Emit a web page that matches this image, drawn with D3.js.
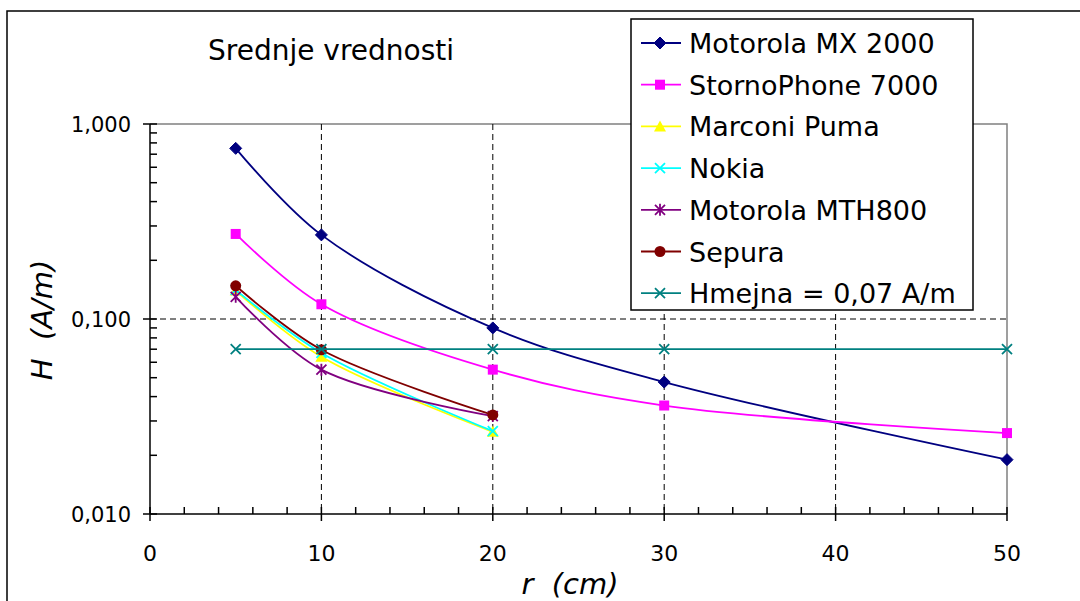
<!DOCTYPE html>
<html>
<head>
<meta charset="utf-8">
<script src="https://cdn.jsdelivr.net/npm/d3@7"></script>
<style>
body { margin: 0; background: #fff; }
svg { display: block; font-family: "DejaVu Sans", sans-serif; }
</style>
</head>
<body>
<svg id="chart" width="1080" height="601"></svg>
<script>
// data
var distances = [5, 10, 20, 30, 50];
var mx2000 = [0.75, 0.27, 0.090, 0.0475, 0.019];
var storno = [0.273, 0.119, 0.055, 0.036, 0.026];
var marconi = [0.14, 0.064, 0.0264];
var nokia = [0.141, 0.067, 0.0266];
var mth800 = [0.13, 0.055, 0.0318];
var sepura = [0.148, 0.0695, 0.0322];
var hmejna = [0.07, 0.07, 0.07, 0.07, 0.07];
var seriesNames = ['Motorola MX 2000', 'StornoPhone 7000', 'Marconi Puma', 'Nokia', 'Motorola MTH800', 'Sepura', 'Hmejna = 0,07 A/m'];
var xTicks = [0, 10, 20, 30, 40, 50];
var yTicks = [0.01, 0.1, 1];

var series = [
	{name: seriesNames[0], vals: mx2000, color: '#000080', marker: 'diamond'},
	{name: seriesNames[1], vals: storno, color: '#FF00FF', marker: 'square'},
	{name: seriesNames[2], vals: marconi, color: '#FFFF00', marker: 'triangle'},
	{name: seriesNames[3], vals: nokia, color: '#00FFFF', marker: 'x'},
	{name: seriesNames[4], vals: mth800, color: '#800080', marker: 'star'},
	{name: seriesNames[5], vals: sepura, color: '#800000', marker: 'circle'},
	{name: seriesNames[6], vals: hmejna, color: '#008080', marker: 'x'}
];

var svg = d3.select('#chart');
var pLeft = 150, pRight = 1007, pTop = 124, pBottom = 514;

var x = d3.scaleLinear().domain([0, 50]).range([pLeft, pRight]);
var y = d3.scaleLog().domain([0.01, 1]).range([pBottom, pTop]);

// outer frame
svg.append('rect')
	.attr('x', 7).attr('y', 11)
	.attr('width', 1200).attr('height', 800)
	.attr('fill', 'none').attr('stroke', '#000').attr('stroke-width', 1.5);

// plot area border (top / right in grey)
svg.append('path')
	.attr('d', 'M' + pLeft + ',' + pTop + 'H' + pRight + 'V' + pBottom)
	.attr('fill', 'none').attr('stroke', '#808080').attr('stroke-width', 1.5);

// dashed gridlines
var grid = svg.append('g').attr('stroke', '#000').attr('stroke-width', 1).attr('stroke-dasharray', '6,4');
[10, 20, 30, 40].forEach(function (v) {
	grid.append('line').attr('x1', x(v)).attr('x2', x(v)).attr('y1', pTop).attr('y2', pBottom);
});
grid.append('line').attr('x1', pLeft).attr('x2', pRight).attr('y1', y(0.1)).attr('y2', y(0.1));

// y axis
var yMinor = [];
for (var d = 0.01; d < 0.99; d *= 10)
	for (var k = 2; k <= 9; k++) yMinor.push(d * k);
var ax = svg.append('g').attr('stroke', '#000').attr('stroke-width', 1.5);
ax.append('line').attr('x1', pLeft).attr('x2', pLeft).attr('y1', pTop).attr('y2', pBottom);
ax.selectAll('.ymaj').data(yTicks).enter().append('line')
	.attr('x1', pLeft - 7).attr('x2', pLeft + 7)
	.attr('y1', function (d) { return y(d); }).attr('y2', function (d) { return y(d); });
ax.selectAll('.ymin').data(yMinor).enter().append('line')
	.attr('x1', pLeft).attr('x2', pLeft + 7)
	.attr('y1', function (d) { return y(d); }).attr('y2', function (d) { return y(d); });

// x axis
var xMinor = d3.range(2, 50, 2).filter(function (v) { return v % 10 != 0; });
ax.append('line').attr('x1', pLeft).attr('x2', pRight).attr('y1', pBottom).attr('y2', pBottom);
ax.selectAll('.xmaj').data(xTicks).enter().append('line')
	.attr('x1', function (d) { return x(d); }).attr('x2', function (d) { return x(d); })
	.attr('y1', pBottom - 7).attr('y2', pBottom + 7);
ax.selectAll('.xmin').data(xMinor).enter().append('line')
	.attr('x1', function (d) { return x(d); }).attr('x2', function (d) { return x(d); })
	.attr('y1', pBottom - 7).attr('y2', pBottom);

var fmt = function (d) { return d3.format('.3f')(d).replace('.', ','); };
svg.selectAll('.ylab').data(yTicks).enter().append('text')
	.attr('x', 131).attr('y', function (d) { return y(d) + 8; })
	.attr('text-anchor', 'end').attr('font-size', 21).attr('fill', '#000')
	.text(fmt);
svg.selectAll('.xlab').data(xTicks).enter().append('text')
	.attr('x', function (d) { return x(d); }).attr('y', 561)
	.attr('text-anchor', 'middle').attr('font-size', 22).attr('fill', '#000')
	.text(function (d) { return d; });

// axis titles
svg.append('text')
	.attr('transform', 'translate(52,320) rotate(-90)')
	.attr('text-anchor', 'middle').attr('font-size', 29).attr('font-style', 'italic')
	.attr('xml:space', 'preserve')
	.text('H  (A/m)');
svg.append('text')
	.attr('x', 570).attr('y', 594)
	.attr('text-anchor', 'middle').attr('font-size', 29).attr('font-style', 'italic')
	.attr('xml:space', 'preserve')
	.text('r  (cm)');

svg.append('text')
	.attr('x', 208).attr('y', 60)
	.attr('font-size', 28)
	.text('Srednje vrednosti');

// markers
function drawMarker(g, type, color) {
	if (type == 'diamond') {
		g.append('path').attr('d', 'M0,-6L6,0L0,6L-6,0Z').attr('fill', color).attr('stroke', color);
	} else if (type == 'square') {
		g.append('rect').attr('x', -5).attr('y', -5).attr('width', 10).attr('height', 10).attr('fill', color);
	} else if (type == 'triangle') {
		g.append('path').attr('d', 'M0,-6L6,5L-6,5Z').attr('fill', color);
	} else if (type == 'circle') {
		g.append('circle').attr('r', 5.5).attr('fill', color);
	} else if (type == 'x') {
		g.append('path').attr('d', 'M-5,-5L5,5M-5,5L5,-5').attr('stroke', color).attr('stroke-width', 1.8);
	} else if (type == 'star') {
		g.append('path').attr('d', 'M-5,-5L5,5M-5,5L5,-5M0,-6V6').attr('stroke', color).attr('stroke-width', 1.8);
	}
}

var line = d3.line()
	.x(function (d, i) { return x(distances[i]); })
	.y(function (d) { return y(d); })
	.curve(d3.curveCatmullRom.alpha(0.5));

series.forEach(function (s) {
	var g = svg.append('g');
	g.append('path').attr('d', line(s.vals))
		.attr('fill', 'none').attr('stroke', s.color).attr('stroke-width', 1.8);
	s.vals.forEach(function (v, i) {
		var m = g.append('g').attr('transform', 'translate(' + x(distances[i]) + ',' + y(v) + ')');
		drawMarker(m, s.marker, s.color);
	});
});

// legend
var lg = svg.append('g');
lg.append('rect').attr('x', 631).attr('y', 19).attr('width', 342).attr('height', 291)
	.attr('fill', '#fff').attr('stroke', '#000').attr('stroke-width', 1.5);
series.forEach(function (s, i) {
	var yy = 43 + i * 41.7;
	lg.append('line').attr('x1', 641).attr('x2', 681).attr('y1', yy).attr('y2', yy)
		.attr('stroke', s.color).attr('stroke-width', 1.8);
	var m = lg.append('g').attr('transform', 'translate(660,' + yy + ')');
	drawMarker(m, s.marker, s.color);
	lg.append('text').attr('x', 689).attr('y', yy + 10).attr('font-size', 27)
		.text(s.name);
});
</script>
</body>
</html>
